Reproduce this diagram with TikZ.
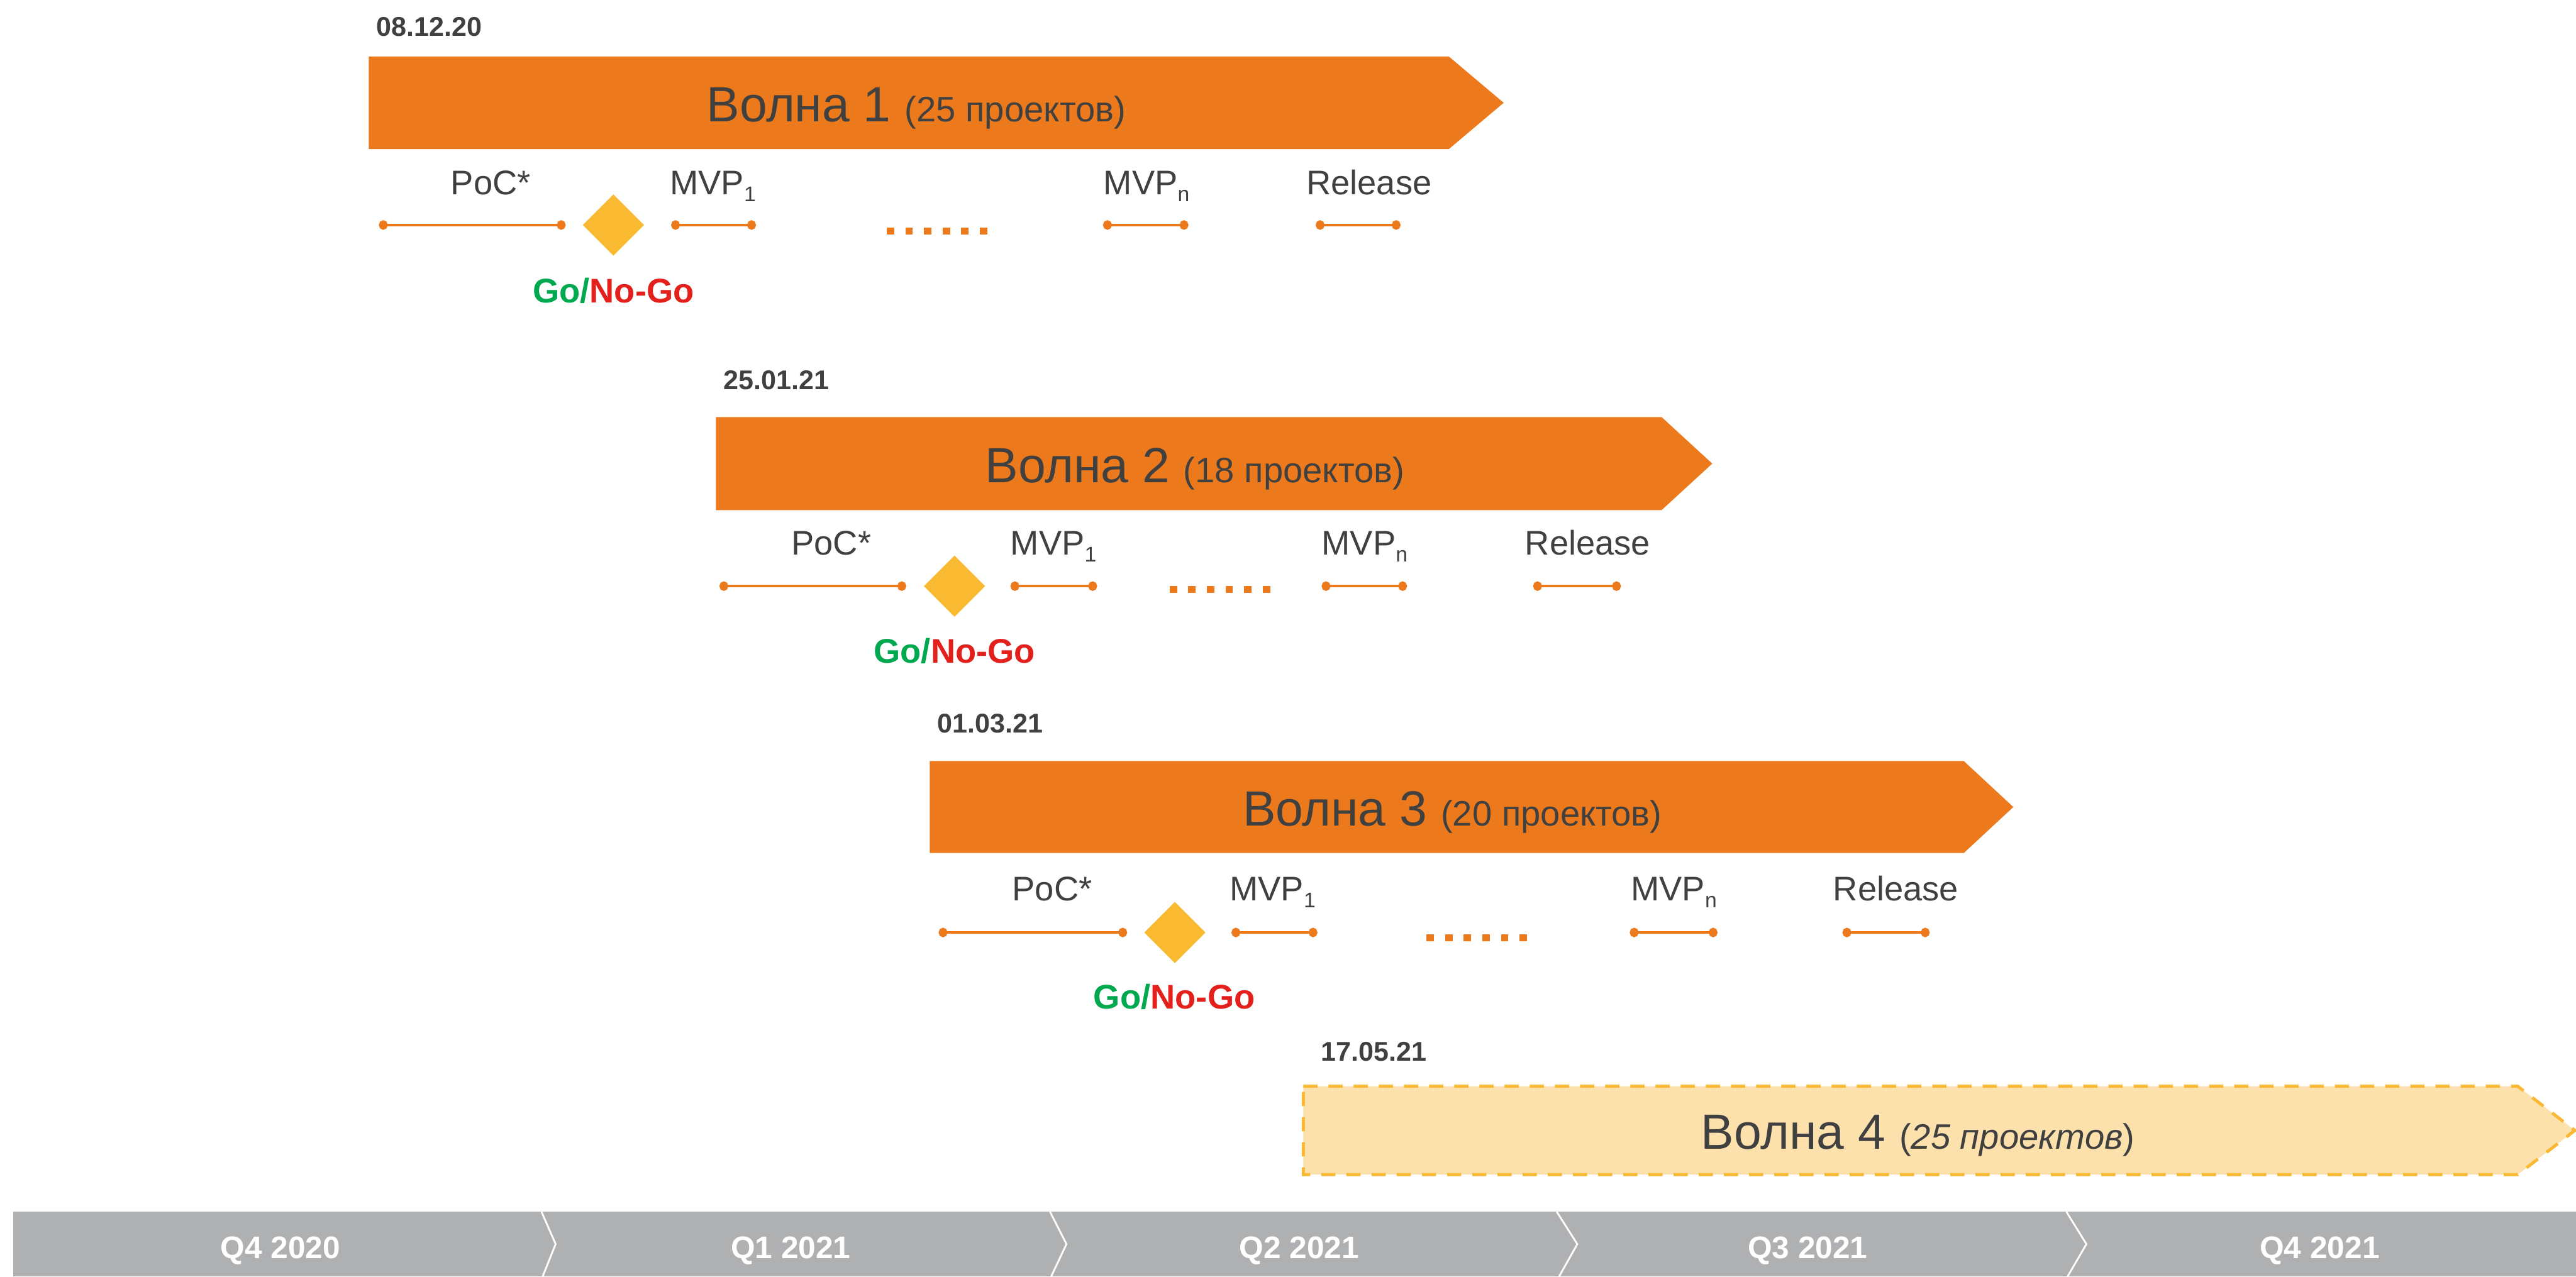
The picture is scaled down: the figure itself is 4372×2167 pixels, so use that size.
\documentclass[tikz,border=0pt]{standalone}
\usepackage{fontspec}
\setmainfont{Liberation Sans}
\usetikzlibrary{arrows.meta,shapes.geometric}
\definecolor{ora}{HTML}{EC7A1C}
\definecolor{txt}{HTML}{404040}
\definecolor{gatec}{HTML}{F9B931}
\definecolor{w4fill}{HTML}{FCE1AC}
\definecolor{w4line}{HTML}{F9B934}
\definecolor{gogreen}{HTML}{00A94F}
\definecolor{gored}{HTML}{E3201B}
\definecolor{tgray}{HTML}{AFB0B2}
\newcommand\myfs[1]{\fontsize{#1}{#1}\selectfont}
\newcommand\mysub[1]{\raisebox{-12pt}{\myfs{36}#1}}
\begin{document}
\begin{tikzpicture}[x=1pt,y=-1pt,
  datelbl/.style={anchor=base west, inner sep=0, font={\myfs{46}\bfseries}, text=txt},
  msglbl/.style={anchor=base west, inner sep=0, font={\myfs{58}}, text=txt},
  wavetxt/.style={anchor=base west, inner sep=0, font={\myfs{84}}, text=txt},
  gnglbl/.style={anchor=base, inner sep=0, font={\myfs{58}\bfseries}},
  qlbl/.style={anchor=base, inner sep=0, font={\myfs{53}\bfseries}, text=white},
  segline/.style={draw=ora, line width=4.5pt, {Circle[length=15pt,width=16pt]}-{Circle[length=15pt,width=16pt]}},
  dotline/.style={draw=ora, line width=12pt, dash pattern=on 12.6pt off 19pt},
  gate/.style={diamond, fill=gatec, minimum width=104pt, minimum height=104pt, inner sep=0pt, aspect=1},
  wavebar/.style={fill=ora},
  sepline/.style={draw=white, line width=3pt}
]
\useasboundingbox (0,0) rectangle (4372,2167);
\fill[white] (0,0) rectangle (4372,2167);

% ---------- Wave bars ----------
\fill[wavebar] (626,96) -- (2459,96) -- (2552,174.5) -- (2459,253) -- (626,253) -- cycle;
\fill[wavebar] (1215,708) -- (2820,708) -- (2906,787) -- (2820,866) -- (1215,866) -- cycle;
\fill[wavebar] (1578,1292) -- (3333,1292) -- (3417,1370) -- (3333,1448) -- (1578,1448) -- cycle;
\path[fill=w4fill, draw=w4line, line width=5.3pt, dash pattern=on 24pt off 18.7pt]
  (2212,1844) -- (4273,1844) -- (4370,1919) -- (4273,1994) -- (2212,1994) -- cycle;

% ---------- Dates ----------
\node[datelbl] (d1) at (639,61) {08.12.20};
\node[datelbl] (d2) at (1228,661) {25.01.21};
\node[datelbl] (d3) at (1591,1244) {01.03.21};
\node[datelbl] (d4) at (2242,1801) {17.05.21};

% ---------- Wave titles ----------
\node[wavetxt] (w1) at (1199,207) {Волна 1 {\myfs{60}(25 проектов)}};
\node[wavetxt] (w2) at (1672,819) {Волна 2 {\myfs{60}(18 проектов)}};
\node[wavetxt] (w3) at (2109,1402) {Волна 3 {\myfs{60}(20 проектов)}};
\node[wavetxt] (w4) at (2887,1951) {Волна 4 {\myfs{60}(\textit{25 проектов})}};

% ---------- Stage labels ----------
\node[msglbl] (poc1) at (765,330) {PoC*};
\node[msglbl] (mvpa1) at (1137,330) {MVP\mysub{1}};
\node[msglbl] (mvpn1) at (1873,330) {MVP\mysub{n}};
\node[msglbl] (rel1) at (2217,330) {Release};

\node[msglbl] (poc2) at (1343,942) {PoC*};
\node[msglbl] (mvpa2) at (1715,942) {MVP\mysub{1}};
\node[msglbl] (mvpn2) at (2243,942) {MVP\mysub{n}};
\node[msglbl] (rel2) at (2588,942) {Release};

\node[msglbl] (poc3) at (1718,1529) {PoC*};
\node[msglbl] (mvpa3) at (2087,1529) {MVP\mysub{1}};
\node[msglbl] (mvpn3) at (2768,1529) {MVP\mysub{n}};
\node[msglbl] (rel3) at (3111,1529) {Release};

% ---------- Stage segments ----------
\foreach \n/\xa/\xb/\yy in {p1/643/960/382, m1/1139/1283/382, n1/1872/2017/382, r1/2233/2377/382,
                            p2/1221/1538/995, m2/1715/1862/995, n2/2243/2388/995, r2/2602/2751/995,
                            p3/1593/1913/1583, m3/2090/2236/1583, n3/2766/2915/1583, r3/3127/3275/1583}{
  \coordinate (\n a) at (\xa,\yy);
  \coordinate (\n b) at (\xb,\yy);
  \draw[segline] (\n a) -- (\n b);
}

% ---------- Dotted gaps ----------
\foreach \n/\xa/\yy in {g1/1505/392, g2/1985/1001, g3/2421/1592}{
  \coordinate (\n a) at (\xa,\yy);
  \coordinate (\n b) at (\xa+171,\yy);
  \draw[dotline] (\n a) -- (\n b);
}

% ---------- Go/No-Go gates ----------
\node[gate] (gate1) at (1041,382) {};
\node[gate] (gate2) at (1620,995) {};
\node[gate] (gate3) at (1994,1583) {};
\node[gnglbl] (gng1) at (1041,514) {\textcolor{gogreen}{Go/}\textcolor{gored}{No-Go}};
\node[gnglbl] (gng2) at (1620,1126) {\textcolor{gogreen}{Go/}\textcolor{gored}{No-Go}};
\node[gnglbl] (gng3) at (1993,1713) {\textcolor{gogreen}{Go/}\textcolor{gored}{No-Go}};

% ---------- Timeline ----------
\fill[tgray] (22,2057) rectangle (4372,2167);
\draw[sepline] (919,2057) -- (943,2112) -- (921,2167);
\draw[sepline] (1782,2057) -- (1810,2112) -- (1784,2167);
\draw[sepline] (2642,2057) -- (2677,2112) -- (2646,2167);
\draw[sepline] (3507,2057) -- (3541,2112) -- (3509,2167);
\node[qlbl] (q1) at (476,2136) {Q4 2020};
\node[qlbl] (q2) at (1342,2136) {Q1 2021};
\node[qlbl] (q3) at (2205,2136) {Q2 2021};
\node[qlbl] (q4) at (3068,2136) {Q3 2021};
\node[qlbl] (q5) at (3937,2136) {Q4 2021};
\end{tikzpicture}
\end{document}
